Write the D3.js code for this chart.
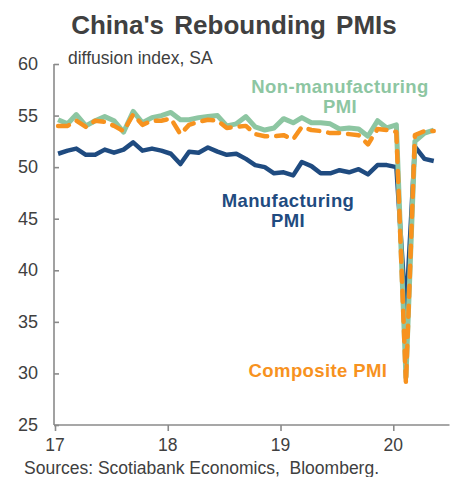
<!DOCTYPE html>
<html><head><meta charset="utf-8">
<script src="https://cdn.jsdelivr.net/npm/d3@7"></script>
<style>
html,body{margin:0;padding:0;background:#fff;}
svg{display:block;font-family:"Liberation Sans",Arial,sans-serif;}
</style></head>
<body><svg id="c" width="454" height="477"></svg>
<script>
// Monthly data, Jan 2017 – May 2020
const startYear = 2017;
const manufacturing = [
  51.3,51.6,51.8,51.2,51.2,51.7,51.4,51.7,52.4,51.6,51.8,51.6,
  51.3,50.3,51.5,51.4,51.9,51.5,51.2,51.3,50.8,50.2,50.0,49.4,
  49.5,49.2,50.5,50.1,49.4,49.4,49.7,49.5,49.8,49.3,50.2,50.2,
  50.0,35.7,52.0,50.8,50.6];
const nonManufacturing = [
  54.6,54.2,55.1,54.0,54.5,54.9,54.5,53.4,55.4,54.3,54.8,55.0,
  55.3,54.6,54.6,54.8,54.9,55.0,54.0,54.2,54.9,53.9,53.6,53.8,
  54.7,54.3,54.8,54.3,54.3,54.2,53.7,53.8,53.7,53.0,54.5,53.8,
  54.1,29.6,52.5,53.3,53.6];
const composite = [
  54.0,54.0,54.5,53.9,54.5,54.4,54.0,53.5,55.1,54.1,54.5,54.5,
  54.7,53.2,54.1,54.4,54.6,54.5,53.8,53.9,54.0,53.2,53.0,53.0,
  53.1,52.7,53.9,53.6,53.5,53.3,53.3,53.2,53.1,52.2,53.7,53.6,
  53.4,29.0,53.1,53.5,53.5];
const yTicks = [25,30,35,40,45,50,55,60];
const xTickYears = [2017,2018,2019,2020];
const xTickLabels = ["17","18","19","20"];
const titleText = "China's Rebounding PMIs";
const unitText = "diffusion index, SA";
const sourceText = "Sources: Scotiabank Economics,  Bloomberg.";

const svg = d3.select("#c");
const x = d3.scaleTime()
  .domain([new Date(2017,0,1), new Date(2020,6,1)])
  .range([55, 449.5]);
const y = d3.scaleLinear().domain([25,60]).range([425,64]);

const dates = manufacturing.map((_,i)=> new Date(startYear, i, 11));

const axisColor = "#8a8a8a";
const textColor = "#404040";

// title
svg.append("text").attr("x",234).attr("y",34).attr("text-anchor","middle")
  .attr("font-size",26).attr("font-weight","bold").attr("fill",textColor)
  .attr("word-spacing",3).text(titleText);

// y axis
const yAxis = d3.axisRight(y).tickValues(yTicks).tickSize(5).tickFormat("");
const gy = svg.append("g").attr("transform","translate(54,0)").call(yAxis);
gy.select(".domain").attr("stroke",axisColor).attr("stroke-width",1.6).attr("d",`M0,${y(60)}V${y(25)}`);
gy.selectAll(".tick line").attr("stroke",axisColor).attr("stroke-width",1.6);
svg.append("g").selectAll("text").data(yTicks).join("text")
  .attr("x",38).attr("y",d=>y(d)+6).attr("text-anchor","end")
  .attr("font-size",18).attr("fill",textColor).text(d=>d);

// x axis
const xAxis = d3.axisBottom(x).tickValues(xTickYears.map(yr=>new Date(yr,0,1))).tickSize(6).tickFormat("");
const gx = svg.append("g").attr("transform",`translate(0,${y(25)})`).call(xAxis);
gx.select(".domain").attr("stroke",axisColor).attr("stroke-width",1.6).attr("d","M54,0H449.5");
gx.selectAll(".tick line").attr("stroke",axisColor).attr("stroke-width",1.6);
svg.append("g").selectAll("text").data(xTickYears).join("text")
  .attr("x",(d)=>x(new Date(d,0,1))).attr("y",451).attr("text-anchor","middle")
  .attr("font-size",17.5).attr("fill",textColor).text((d,i)=>xTickLabels[i]);

// unit label
svg.append("text").attr("x",68).attr("y",64).attr("font-size",17.5).attr("fill",textColor).text(unitText);

// lines
const line = d3.line().x((d,i)=>x(dates[i])).y(d=>y(d));
const blue = "#1f4b80", green = "#8dc6a2", orange = "#f7921e";
svg.append("path").datum(manufacturing).attr("d",line).attr("fill","none")
  .attr("stroke",blue).attr("stroke-width",4.5).attr("stroke-linejoin","round");
svg.append("path").datum(nonManufacturing).attr("d",line).attr("fill","none")
  .attr("stroke",green).attr("stroke-width",5).attr("stroke-linejoin","round");
svg.append("path").datum(composite).attr("d",line).attr("fill","none")
  .attr("stroke",orange).attr("stroke-width",4.5).attr("stroke-linejoin","round")
  .attr("stroke-linecap","round").attr("stroke-dasharray","11,9");

// series labels
function label(lines, cx, by, color){
  lines.forEach((t,i)=>{
    svg.append("text").attr("x",cx).attr("y",by+i*20).attr("text-anchor","middle")
      .attr("font-size",18.5).attr("font-weight","bold").attr("fill",color)
      .attr("letter-spacing",0.4).text(t);
  });
}
label(["Non-manufacturing","PMI"],340,93,green);
label(["Manufacturing","PMI"],288,207,blue);
label(["Composite PMI"],318,377,orange);

// source
svg.append("text").attr("x",24).attr("y",474).attr("font-size",17.5).attr("fill",textColor)
  .attr("xml:space","preserve").style("white-space","pre").text(sourceText);
</script></body></html>
